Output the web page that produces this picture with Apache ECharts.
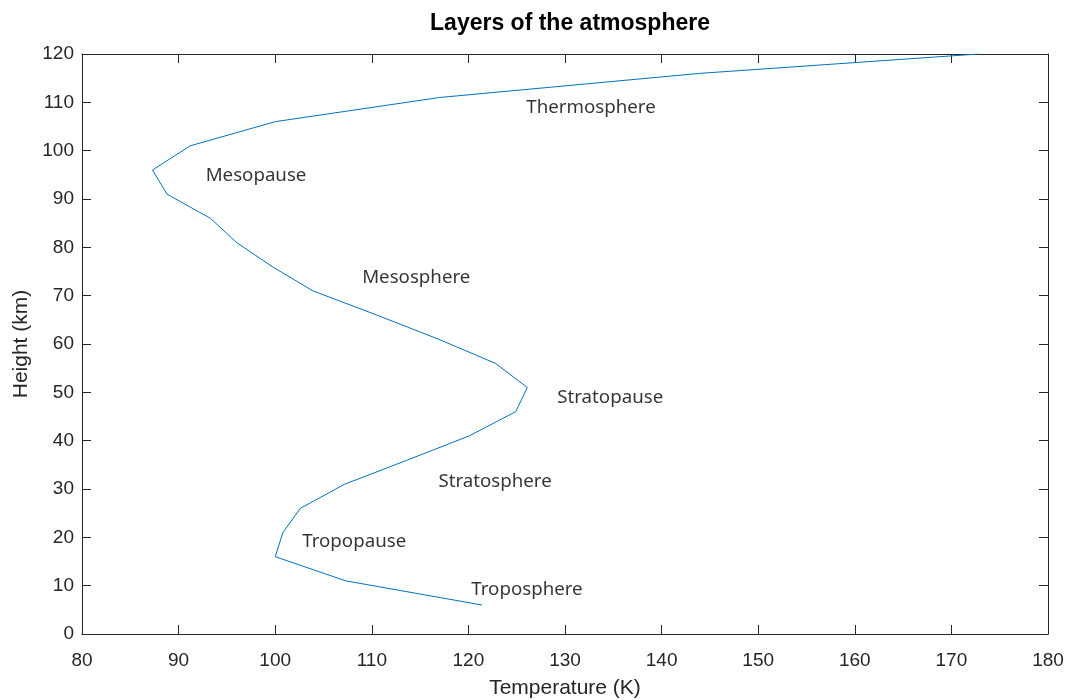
<!DOCTYPE html>
<html>
<head>
<meta charset="utf-8">
<script src="https://cdn.jsdelivr.net/npm/echarts@6/dist/echarts.min.js"></script>
<style>
html,body{margin:0;padding:0;background:#fff;}
#chart{width:1070px;height:700px;}
</style>
</head>
<body>
<div id="chart"></div>
<script>
// Height (km) of each sample
const heights = [6, 11, 16, 21, 26, 31, 36, 41, 46, 51, 56, 61, 66, 71, 76, 81, 86, 91, 96, 101, 106, 111, 116, 120];
// Temperature (K) at each height
const temperatures = [121.4, 107.3, 100.0, 100.8, 102.6, 107.2, 113.7, 120.1, 124.9, 126.1, 122.8, 116.9, 110.5, 103.9, 99.7, 96.0, 93.3, 88.8, 87.3, 91.2, 100.0, 117.0, 144.0, 172.8];
// Layer annotations
const labelNames = ["Thermosphere", "Mesopause", "Mesosphere", "Stratopause", "Stratosphere", "Tropopause", "Troposphere"];
const labelTemps = [126.0, 92.8, 109.0, 129.2, 116.9, 102.8, 120.3];
const labelHeights = [108.8, 94.8, 73.7, 48.9, 31.5, 19.1, 9.1];

const xTicks = {min: 80, max: 180, interval: 10};
const yTicks = {min: 0, max: 120, interval: 10};

const axisColor = '#262626';
const tickFont = {fontFamily: 'Liberation Sans, Arial, sans-serif', fontSize: 19, color: axisColor};

const chart = echarts.init(document.getElementById('chart'), null, {renderer: 'canvas'});

const lineData = heights.map((h, i) => [temperatures[i], h]);
const textData = labelNames.map((n, i) => ({value: [labelTemps[i], labelHeights[i]], name: n}));

function xAxisCfg(pos, showLabels) {
  return {
    type: 'value', position: pos, min: xTicks.min, max: xTicks.max, interval: xTicks.interval,
    name: showLabels ? 'Temperature (K)' : '', nameLocation: 'middle', nameGap: 44,
    nameTextStyle: {fontFamily: 'Liberation Sans, Arial, sans-serif', fontSize: 21, color: axisColor},
    axisLine: {show: true, onZero: false, lineStyle: {color: axisColor, width: 1}},
    axisTick: {show: true, inside: true, length: 9, lineStyle: {color: axisColor}},
    axisLabel: Object.assign({show: showLabels, margin: 17}, tickFont),
    splitLine: {show: false}
  };
}
function yAxisCfg(pos, showLabels) {
  return {
    type: 'value', position: pos, min: yTicks.min, max: yTicks.max, interval: yTicks.interval,
    name: showLabels ? 'Height (km)' : '', nameLocation: 'middle', nameGap: 49, nameRotate: 90,
    nameTextStyle: {fontFamily: 'Liberation Sans, Arial, sans-serif', fontSize: 21, color: axisColor},
    axisLine: {show: true, onZero: false, lineStyle: {color: axisColor, width: 1}},
    axisTick: {show: true, inside: true, length: 9, lineStyle: {color: axisColor}},
    axisLabel: Object.assign({show: showLabels, margin: 8}, tickFont),
    splitLine: {show: false}
  };
}

chart.setOption({
  animation: false,
  backgroundColor: '#ffffff',
  title: {
    text: 'Layers of the atmosphere', left: 565, top: 7, textAlign: 'center',
    textStyle: {fontFamily: 'Liberation Sans, Arial, sans-serif', fontSize: 23, fontWeight: 'bold', color: '#000'}
  },
  grid: {left: 82, right: 22, top: 54, bottom: 66, containLabel: false, outerBoundsMode: 'none'},
  xAxis: [xAxisCfg('bottom', true), xAxisCfg('top', false)],
  yAxis: [yAxisCfg('left', true), yAxisCfg('right', false)],
  series: [
    {
      type: 'line', data: lineData, xAxisIndex: 0, yAxisIndex: 0,
      showSymbol: false, symbol: 'none', clip: true,
      lineStyle: {color: '#0072BD', width: 1}
    },
    {
      type: 'scatter', data: textData, xAxisIndex: 0, yAxisIndex: 0,
      symbolSize: 0, silent: true,
      label: {
        show: true, position: [0, 0], align: 'left', verticalAlign: 'middle',
        formatter: p => p.name,
        fontFamily: 'Noto Sans, Open Sans, sans-serif', fontSize: 18.7, color: '#000',
        textBorderWidth: 0
      }
    }
  ]
});
</script>
</body>
</html>
